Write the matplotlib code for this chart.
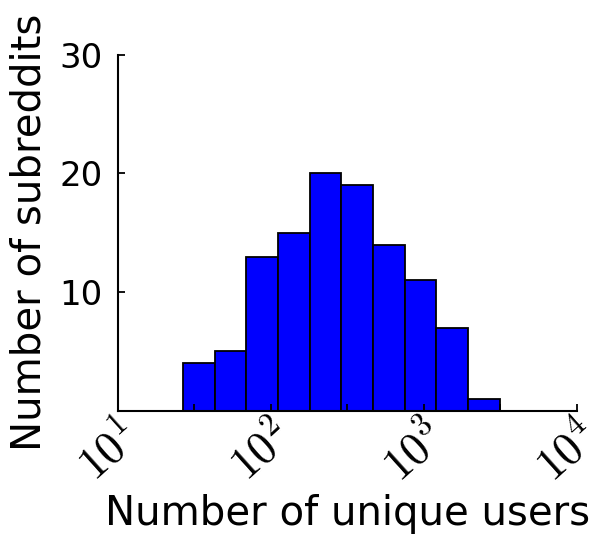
import numpy as np
import matplotlib
matplotlib.use("Agg")
import matplotlib.pyplot as plt
from matplotlib.ticker import FixedLocator, NullFormatter
from matplotlib.transforms import ScaledTranslation

# histogram of subreddit sizes (log-spaced bins)
bin_edges = [26.7, 43.0, 69.2, 111.5, 179.6, 289.1, 465.6, 749.8, 1207, 1944, 3131]
counts = [4, 5, 13, 15, 20, 19, 14, 11, 7, 1]
x_ticks = [1e1, 1e2, 1e3, 1e4]
x_labels = [r"$10^{1}$", r"$10^{2}$", r"$10^{3}$", r"$10^{4}$"]
y_ticks = [10, 20, 30]

plt.rcParams.update({"font.family": "DejaVu Sans", "mathtext.fontset": "cm"})

fig, ax = plt.subplots(figsize=(6.13, 5.37), dpi=100)
fig.subplots_adjust(left=0.192, right=0.941, bottom=0.235, top=0.898)

edges = np.array(bin_edges)
ax.bar(edges[:-1], counts, width=np.diff(edges), align="edge",
       color="#0000ff", edgecolor="black", linewidth=1.3, zorder=1)

ax.set_xscale("log")
ax.set_xlim(1e1, 1e4)
ax.set_ylim(0, 30)

ax.xaxis.set_major_locator(FixedLocator(x_ticks))
ax.set_xticklabels(x_labels, rotation=42, ha="right", rotation_mode="anchor",
                   fontsize=33)
# nudge the rotated decade labels a little to the right
shift = ScaledTranslation(6 / 72, 0, fig.dpi_scale_trans)
for lbl in ax.get_xticklabels():
    lbl.set_transform(lbl.get_transform() + shift)
ax.xaxis.set_minor_locator(FixedLocator([10**1.5, 10**2.5, 10**3.5]))
ax.xaxis.set_minor_formatter(NullFormatter())
ax.set_yticks(y_ticks)
ax.set_yticklabels([str(v) for v in y_ticks], fontsize=24.5)

for side in ("top", "right"):
    ax.spines[side].set_visible(False)
for side in ("left", "bottom"):
    ax.spines[side].set_linewidth(1.5)
ax.tick_params(which="both", direction="in", length=5, width=1.3,
               top=False, right=False, zorder=5)
ax.tick_params(axis="x", pad=2)
ax.tick_params(axis="y", pad=11)

ax.set_xlabel("Number of unique users", fontsize=29, labelpad=2)
ax.set_ylabel("Number of subreddits", fontsize=29, labelpad=7)

fig.savefig("out.png", dpi=100, facecolor="white")
